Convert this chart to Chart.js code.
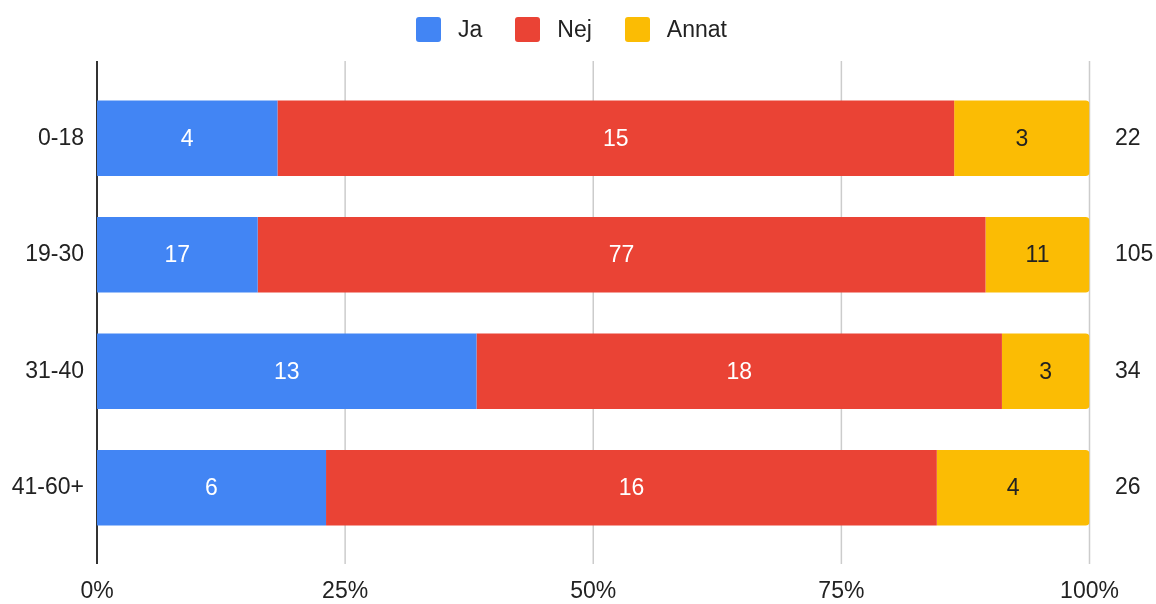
<!DOCTYPE html>
<html>
<head>
<meta charset="utf-8">
<script src="https://cdn.jsdelivr.net/npm/chart.js@4.4.1/dist/chart.umd.min.js"></script>
<style>
  html, body { margin: 0; padding: 0; background: #fff; }
  #wrap { position: relative; width: 1156px; height: 604px; }
  #legend {
    position: absolute; left: 416px; top: 17px; height: 25px;
    display: flex; align-items: center;
    font-family: "Liberation Sans", Arial, sans-serif; font-size: 23px; color: #222;
  }
  #legend .box { width: 25px; height: 25px; border-radius: 3px; margin-right: 17px; }
  #legend .txt { margin-right: 33px; line-height: 25px; }
</style>
</head>
<body>
<div id="wrap">
  <div id="legend"></div>
  <canvas id="barCanvas" width="1156" height="604"></canvas>
</div>
<script>
// Age groups and answer counts
const categories = ['0-18', '19-30', '31-40', '41-60+'];
const jaValues = [4, 17, 13, 6];
const nejValues = [15, 77, 18, 16];
const annatValues = [3, 11, 3, 4];
const xTicks = [0, 25, 50, 75, 100];

const seriesNames = ['Ja', 'Nej', 'Annat'];
const seriesColors = ['#4285F4', '#EA4335', '#FBBC04'];
const seriesTextColors = ['#ffffff', '#ffffff', '#222222'];
const seriesValues = [jaValues, nejValues, annatValues];

// Totals per group, shown on the right axis
const totals = categories.map((_, i) => jaValues[i] + nejValues[i] + annatValues[i]);
const toPercent = arr => arr.map((v, i) => v / totals[i] * 100);

const fontFamily = '"Liberation Sans", Arial, sans-serif';
const labelFont = { family: fontFamily, size: 23 };

// Simple HTML legend
const legendEl = document.getElementById('legend');
seriesNames.forEach((name, i) => {
    const box = document.createElement('span');
    box.className = 'box';
    box.style.background = seriesColors[i];
    const txt = document.createElement('span');
    txt.className = 'txt';
    txt.textContent = name;
    legendEl.appendChild(box);
    legendEl.appendChild(txt);
});

// Grid lines that run a bit past the bars, like the original
const gridPlugin = {
    id: 'tallGrid',
    beforeDatasetsDraw(chart) {
        const { ctx, chartArea, scales } = chart;
        ctx.save();
        scales.x.ticks.forEach(t => {
            const x = scales.x.getPixelForValue(t.value);
            ctx.beginPath();
            ctx.lineWidth = t.value === 0 ? 2 : 1.5;
            ctx.strokeStyle = t.value === 0 ? '#333333' : '#cccccc';
            ctx.moveTo(x, chartArea.top - 19);
            ctx.lineTo(x, chartArea.bottom + 18);
            ctx.stroke();
        });
        ctx.restore();
    }
};

// Count labels in the middle of every segment
const valueLabels = {
    id: 'valueLabels',
    afterDatasetsDraw(chart) {
        const ctx = chart.ctx;
        ctx.save();
        ctx.font = '23px ' + fontFamily;
        ctx.textAlign = 'center';
        ctx.textBaseline = 'middle';
        chart.data.datasets.forEach((ds, di) => {
            const meta = chart.getDatasetMeta(di);
            meta.data.forEach((bar, i) => {
                const { x, y, base } = bar.getProps(['x', 'y', 'base'], true);
                ctx.fillStyle = seriesTextColors[di];
                ctx.fillText(String(seriesValues[di][i]), (x + base) / 2, y + 1);
            });
        });
        ctx.restore();
    }
};

const ctx = document.getElementById('barCanvas').getContext('2d');

let myChart = new Chart(ctx, {
    type: 'bar',
    data: {
        labels: categories,
        datasets: seriesNames.map((name, i) => ({
            label: name,
            data: toPercent(seriesValues[i]),
            backgroundColor: seriesColors[i],
            borderWidth: 0,
            borderRadius: i === 2 ? 4 : 0,
            borderSkipped: 'start',
            categoryPercentage: 1,
            barPercentage: 0.65
        }))
    },
    options: {
        indexAxis: 'y',
        responsive: false,
        animation: false,
        layout: { padding: { top: 80, left: 0, right: 0, bottom: 0 } },
        plugins: {
            legend: { display: false },
            tooltip: { enabled: false }
        },
        scales: {
            x: {
                stacked: true,
                min: 0,
                max: 100,
                afterBuildTicks: s => { s.ticks = xTicks.map(v => ({ value: v })); },
                afterFit: s => { s.height = 58; },
                ticks: {
                    callback: v => v + '%',
                    color: '#222',
                    font: labelFont,
                    padding: 32,
                    maxRotation: 0
                },
                grid: { display: false, drawTicks: false },
                border: { display: false }
            },
            y: {
                stacked: true,
                afterFit: s => { s.width = 97; },
                ticks: { color: '#222', font: labelFont, padding: 13 },
                grid: { display: false, drawTicks: false },
                border: { display: false }
            },
            y2: {
                type: 'category',
                labels: totals.map(String),
                position: 'right',
                offset: true,
                afterFit: s => { s.width = 66.5; },
                ticks: { color: '#222', font: labelFont, padding: 25.5 },
                grid: { display: false, drawTicks: false },
                border: { display: false }
            }
        }
    },
    plugins: [gridPlugin, valueLabels]
});
</script>
</body>
</html>
